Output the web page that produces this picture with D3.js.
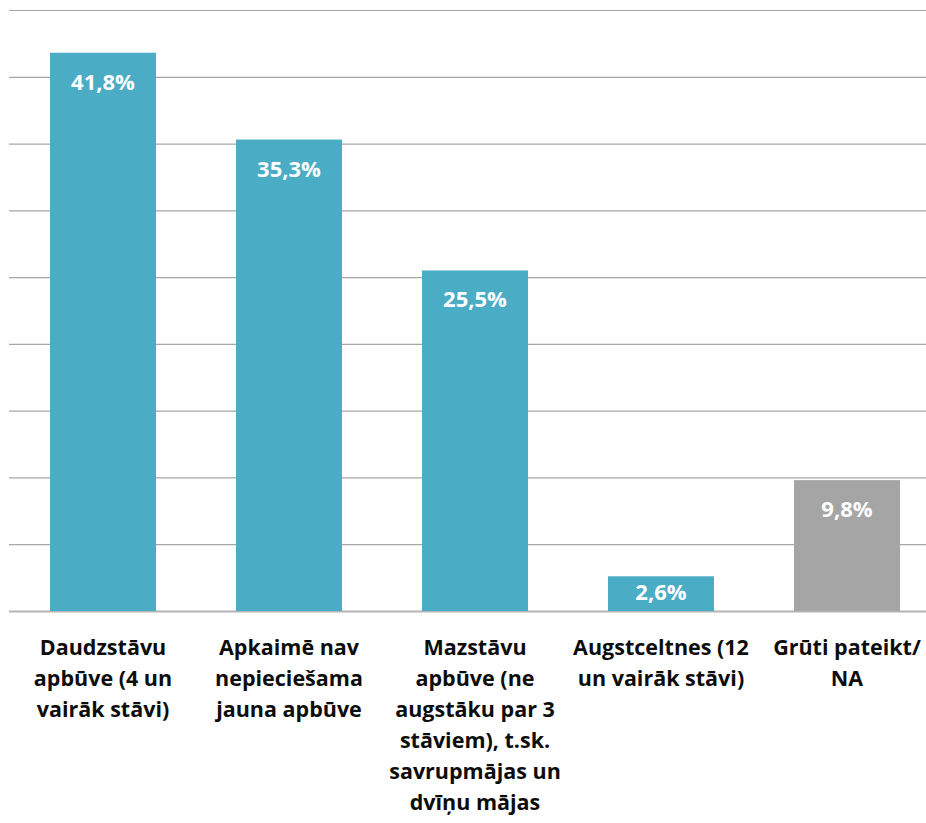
<!DOCTYPE html>
<html>
<head>
<meta charset="utf-8">
<script src="https://cdn.jsdelivr.net/npm/d3@7"></script>
<style>
  body { margin: 0; background: #fff; }
  svg text { font-family: "Open Sans", "Noto Sans", sans-serif; }
</style>
</head>
<body>
<svg id="viz1" width="926" height="823"></svg>
<script>
// chart data
var categories = ["Daudzstāvu apbūve", "Apkaimē nav nepieciešama", "Mazstāvu apbūve", "Augstceltnes", "Grūti pateikt/NA"];
var categoryLines = [
    ["Daudzstāvu", "apbūve (4 un", "vairāk stāvi)"],
    ["Apkaimē nav", "nepieciešama", "jauna apbūve"],
    ["Mazstāvu", "apbūve (ne", "augstāku par 3", "stāviem), t.sk.", "savrupmājas un", "dvīņu mājas"],
    ["Augstceltnes (12", "un vairāk stāvi)"],
    ["Grūti pateikt/", "NA"]
];
var values = [41.8, 35.3, 25.5, 2.6, 9.8];
var valueLabels = ["41,8%", "35,3%", "25,5%", "2,6%", "9,8%"];
var barColors = ["#4bacc6", "#4bacc6", "#4bacc6", "#4bacc6", "#a5a5a5"];
var gridTicks = [0, 5, 10, 15, 20, 25, 30, 35, 40, 45];

var svg = d3.select("#viz1");

var xScale = d3.scaleBand()
    .domain(categories)
    .range([10, 940])
    .paddingInner(0.43)
    .paddingOuter(0.215);

var yScale = d3.scaleLinear()
    .domain([0, 45])
    .range([611, 10]);

// gridlines
svg.append("g")
    .selectAll("line")
    .data(gridTicks)
    .enter()
    .append("line")
    .attr("x1", 9)
    .attr("x2", 926)
    .attr("y1", d => yScale(d) + 0.5)
    .attr("y2", d => yScale(d) + 0.5)
    .style("stroke", d => d === 0 ? "#b4b4b4" : "#a6a6a6")
    .style("stroke-width", d => d === 0 ? 2 : 1.2);

// bars
var bars = svg.append("g");
bars.selectAll("rect")
    .data(values)
    .enter()
    .append("rect")
    .attr("x", (d, i) => xScale(categories[i]))
    .attr("y", d => yScale(d))
    .attr("width", xScale.bandwidth())
    .attr("height", d => yScale(0) - yScale(d))
    .style("fill", (d, i) => barColors[i]);

// value labels (inside end, kept inside short bars)
bars.selectAll("text")
    .data(values)
    .enter()
    .append("text")
    .attr("x", (d, i) => xScale(categories[i]) + xScale.bandwidth() / 2)
    .attr("y", d => Math.min(yScale(d) + 37, yScale(0) - 11))
    .attr("text-anchor", "middle")
    .style("fill", "#fff")
    .style("font-size", "22px")
    .style("font-weight", "bold")
    .text((d, i) => valueLabels[i]);

// category labels
var labels = svg.append("g");
labels.selectAll("text")
    .data(categoryLines)
    .enter()
    .append("text")
    .attr("text-anchor", "middle")
    .attr("x", (d, i) => xScale(categories[i]) + xScale.bandwidth() / 2)
    .attr("y", 655)
    .style("fill", "#0d0d0d")
    .style("font-size", "21.5px")
    .style("font-weight", "bold")
    .each(function (lines, i) {
        var t = d3.select(this);
        lines.forEach(function (line, j) {
            t.append("tspan")
                .attr("x", xScale(categories[i]) + xScale.bandwidth() / 2)
                .attr("dy", j === 0 ? 0 : 31)
                .text(line);
        });
    });
</script>
</body>
</html>
